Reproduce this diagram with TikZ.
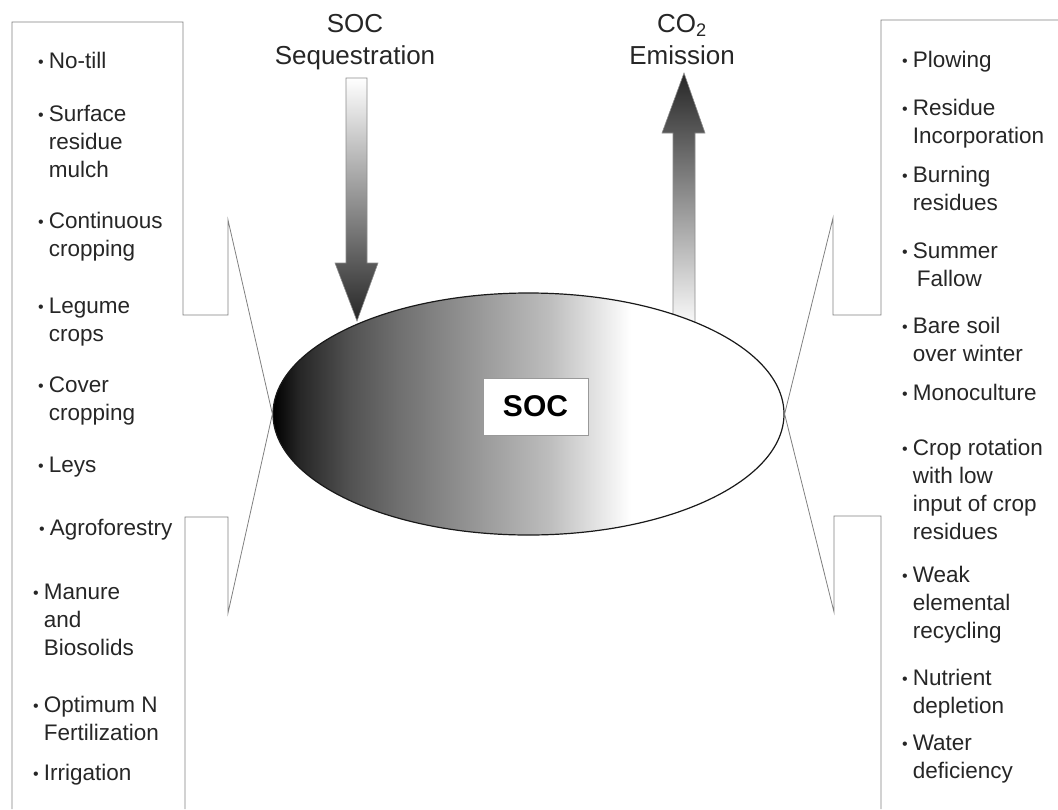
\documentclass[tikz,border=0pt]{standalone}
\usepackage{fontspec}
\setmainfont{Liberation Sans}
\usetikzlibrary{shapes.geometric}
\pgfdeclarehorizontalshading{socshade}{100bp}{color(0bp)=(black); color(25bp)=(black); color(27.6bp)=(black!85); color(32.5bp)=(black!68); color(37.4bp)=(black!56); color(44.3bp)=(black!42); color(52bp)=(black!26); color(56bp)=(black!13); color(60bp)=(white); color(100bp)=(white)}
\newcommand{\blt}[1]{\raisebox{1pt}{\fontsize{16}{16}\selectfont\textbullet}\hspace{5pt}\begin{tabular}[t]{@{}l@{}}#1\end{tabular}}
\newcommand{\ttl}[1]{\begin{tabular}[t]{@{}c@{}}#1\end{tabular}}

\begin{document}
\begin{tikzpicture}[x=1pt,y=-1pt,
	call_line/.style={draw=black!50,line width=0.8pt},
	flow_arrow/.style={draw=black!45,line width=0.6pt},
	list_item/.style={anchor=base west,inner sep=0pt,text=black!85,font=\fontsize{22.5}{28}\selectfont},
	title_text/.style={anchor=base,inner sep=0pt,text=black!85,font=\fontsize{26}{32}\selectfont},
	soc_ellipse/.style={ellipse,draw=black!90,line width=1.2pt,shading=socshade,minimum width=511pt,minimum height=242pt,inner sep=0pt},
	soc_box/.style={draw=black!40,fill=white,minimum width=105pt,minimum height=57pt,inner sep=0pt,font=\fontsize{30}{30}\selectfont\bfseries}]
	\useasboundingbox (0,0) rectangle (1058,809);

	\node[title_text] (seq) at (355,32) {\ttl{SOC\\Sequestration}};
	\node[title_text] (emis) at (682,32) {\ttl{CO\textsubscript{2}\\Emission}};

	\draw[flow_arrow,top color=white,middle color=black!25,bottom color=black!85]
		(346,78) -- (367,78) -- (367,263) -- (378,263) -- (357,321) -- (335,263) -- (346,263) -- cycle;
	\draw[flow_arrow,top color=black!85,middle color=black!35,bottom color=white]
		(673,330) -- (673,133) -- (662,133) -- (684,73) -- (705,133) -- (695,133) -- (695,330) -- cycle;

	\node[soc_ellipse] (soc) at (528.5,414) {};
	\node[soc_box] (soclabel) at (535.5,406.5) {SOC};

	\draw[call_line] (12,809) -- (12,22) -- (183,22) -- (183,315) -- (228,315) -- (228,220) -- (soc.west)
		-- (228,613) -- (228,517) -- (185,517) -- (185,809);
	\draw[call_line] (1058,20) -- (881,20) -- (881,315) -- (833,315) -- (833,218) -- (soc.east)
		-- (834,612) -- (834,516) -- (881,516) -- (881,809);

	\node[list_item] (notill) at (38,68) {\blt{No-till}};
	\node[list_item] (mulch) at (38,121) {\blt{Surface\\residue\\mulch}};
	\node[list_item] (cont) at (38,228) {\blt{Continuous\\cropping}};
	\node[list_item] (legume) at (38,313) {\blt{Legume\\crops}};
	\node[list_item] (cover) at (38,392) {\blt{Cover\\cropping}};
	\node[list_item] (leys) at (38,472) {\blt{Leys}};
	\node[list_item] (agro) at (39,535) {\blt{Agroforestry}};
	\node[list_item] (manure) at (33,599) {\blt{Manure\\and\\Biosolids}};
	\node[list_item] (fert) at (33,712) {\blt{Optimum N\\Fertilization}};
	\node[list_item] (irrig) at (33,780) {\blt{Irrigation}};

	\node[list_item] (plow) at (902,67) {\blt{Plowing}};
	\node[list_item] (incorp) at (902,115) {\blt{Residue\\Incorporation}};
	\node[list_item] (burn) at (902,182) {\blt{Burning\\residues}};
	\node[list_item] (fallow) at (902,258) {\blt{Summer\\\hspace{4pt}Fallow}};
	\node[list_item] (bare) at (902,333) {\blt{Bare soil\\over winter}};
	\node[list_item] (mono) at (902,400) {\blt{Monoculture}};
	\node[list_item] (rotat) at (902,455) {\blt{Crop rotation\\with low\\input of crop\\residues}};
	\node[list_item] (weak) at (902,582) {\blt{Weak\\elemental\\recycling}};
	\node[list_item] (nutr) at (902,685) {\blt{Nutrient\\depletion}};
	\node[list_item] (water) at (902,750) {\blt{Water\\deficiency}};
\end{tikzpicture}
\end{document}
